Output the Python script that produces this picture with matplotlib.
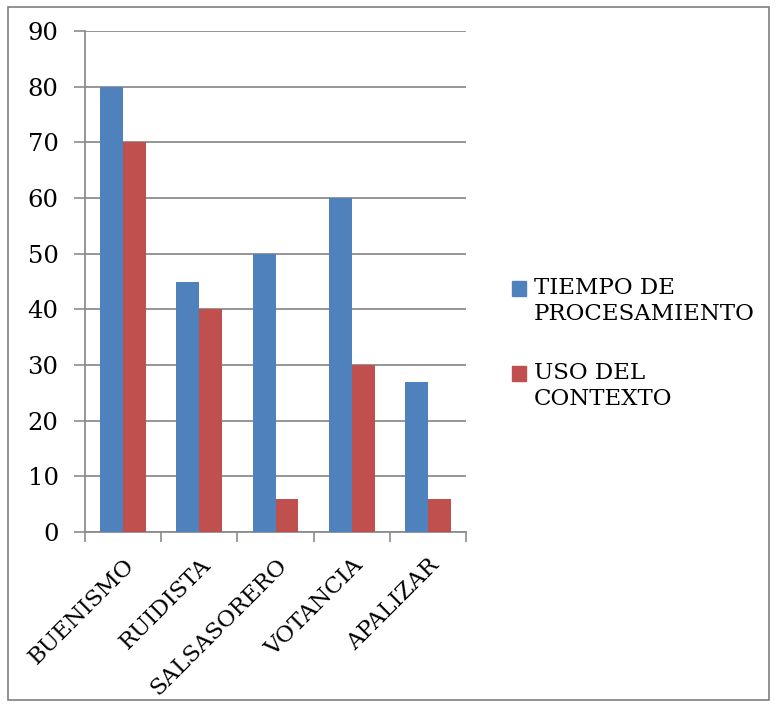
import numpy as np
import matplotlib
matplotlib.use("Agg")
import matplotlib.pyplot as plt
from matplotlib.patches import Rectangle

plt.rcParams['font.family'] = ['DejaVu Serif']

categorias = ["BUENISMO", "RUIDISTA", "SALSASORERO", "VOTANCIA", "APALIZAR"]
tiempo = [80, 45, 50, 60, 27]
contexto = [70, 40, 6, 30, 6]
series = ["TIEMPO DE\nPROCESAMIENTO", "USO DEL\nCONTEXTO"]
colores = ["#4F81BD", "#C0504D"]
yticks = list(range(0, 100, 10))

fs = 16.5

fig = plt.figure(figsize=(7.77, 7.06), dpi=100)
ax = fig.add_axes([85 / 777, 1 - 532 / 706, 381 / 777, 501 / 706])

# borde de la figura
fig.patches.append(Rectangle((8 / 777, 6 / 706), 761 / 777, 693 / 706,
                             transform=fig.transFigure, fill=False,
                             edgecolor="#7f7f7f", linewidth=1.2))

x = np.arange(len(categorias)) + 0.5
w = 0.3
ax.bar(x - w / 2, tiempo, w, color=colores[0], zorder=3)
ax.bar(x + w / 2, contexto, w, color=colores[1], zorder=3)

ax.set_xlim(0, len(categorias))
ax.set_ylim(0, 90)
ax.set_yticks(yticks)
ax.set_yticklabels([str(v) for v in yticks], fontsize=fs + 1)
ax.set_xticks(np.arange(len(categorias) + 1))
ax.set_xticklabels([])
ax.set_xticks(x, minor=True)
ax.set_xticklabels(categorias, minor=True, rotation=45, ha="right",
                   rotation_mode="anchor", fontsize=fs)
ax.tick_params(axis="x", which="minor", length=0, pad=16)
ax.tick_params(axis="x", which="major", length=7, color="#8c8c8c", width=1.2)
ax.tick_params(axis="y", length=8, color="#8c8c8c", width=1.2, pad=11)

ax.yaxis.grid(True, color="#8c8c8c", linewidth=1.3, zorder=0)
ax.set_axisbelow(True)
for s in ["top", "right"]:
    ax.spines[s].set_visible(False)
for s in ["left", "bottom"]:
    ax.spines[s].set_color("#8c8c8c")
    ax.spines[s].set_linewidth(1.3)

# leyenda
ys = [281, 366]
for lab, col, y0 in zip(series, colores, ys):
    fig.patches.append(Rectangle((512 / 777, 1 - (y0 + 15) / 706), 14 / 777, 15 / 706,
                                 transform=fig.transFigure, color=col))
    fig.text(534 / 777, 1 - (y0 - 4) / 706, lab, fontsize=fs, va="top",
             ha="left", linespacing=1.22)

fig.savefig("out.png", dpi=100)
